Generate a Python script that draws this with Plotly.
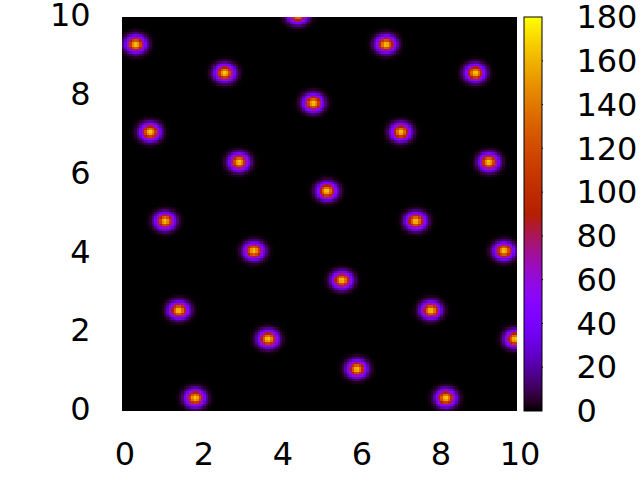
import numpy as np
import plotly.graph_objects as go

# Blob centres (data units)
blob_x = [0.35, 4.45, 6.68, 2.60, 8.94, 4.84, 0.71, 7.06, 2.96, 9.29, 5.19, 1.09,
          7.44, 3.34, 9.67, 5.57, 1.44, 7.82, 3.70, 9.95, 5.95, 1.85, 8.20]
blob_y = [9.31, 10.05, 9.31, 8.58, 8.58, 7.82, 7.08, 7.08, 6.32, 6.32, 5.58, 4.82,
          4.82, 4.06, 4.06, 3.32, 2.56, 2.56, 1.83, 1.83, 1.07, 0.33, 0.33]
peak = 168
sigma_x = 0.145
sigma_y = 0.125

x_ticks = [0, 2, 4, 6, 8, 10]
y_ticks = [0, 2, 4, 6, 8, 10]
cb_ticks = [0, 20, 40, 60, 80, 100, 120, 140, 160, 180]
cb_max = 180

n = 160
gx = (np.arange(n) + 0.5) * 10 / n
gy = (np.arange(n) + 0.5) * 10 / n
X, Y = np.meshgrid(gx, gy)
Z = np.zeros_like(X)
for bx, by in zip(blob_x, blob_y):
    Z += peak * np.exp(-((X - bx) ** 2) / (2 * sigma_x ** 2) - ((Y - by) ** 2) / (2 * sigma_y ** 2))

# gnuplot rgbformulae 7,5,15
cs = []
for t in np.linspace(0, 1, 41):
    r = np.sqrt(t)
    g = t ** 3
    b = np.clip(np.sin(2 * np.pi * t), 0, 1)
    cs.append([float(t), f"rgb({int(round(r*255))},{int(round(g*255))},{int(round(b*255))})"])

FONT = "DejaVu Sans"
FS = 32
W, H = 640, 480
L, T = 122, 17
PW, PH = 395, 394
fig = go.Figure()
fig.add_trace(go.Heatmap(
    x=gx, y=gy, z=Z, zmin=0, zmax=cb_max, colorscale=cs, zsmooth=False,
    hoverinfo="skip",
    colorbar=dict(
        x=(524 - 122) / PW, xanchor="left", xref="paper",
        y=0.5, yanchor="middle", len=1, lenmode="fraction",
        thickness=18, outlinewidth=1, outlinecolor="black",
        tickvals=cb_ticks, ticks="outside", ticklen=28, tickcolor="rgba(0,0,0,0)",
        tickfont=dict(family=FONT, size=FS, color="black"),
        ticklabeloverflow="allow",
        xpad=0, ypad=0,
    ),
))

# inner ticks on both edges of the colour bar
x0 = (524 - 122) / PW
x1 = (543 - 122) / PW
tl = 5 / PW
for v in cb_ticks[1:-1]:
    yy = v / cb_max
    fig.add_shape(type="line", xref="paper", yref="paper", x0=x0, x1=x0 + tl, y0=yy, y1=yy,
                  line=dict(color="black", width=1))
    fig.add_shape(type="line", xref="paper", yref="paper", x0=x1 - tl, x1=x1, y0=yy, y1=yy,
                  line=dict(color="black", width=1))

fig.update_layout(
    width=W, height=H,
    margin=dict(l=L, r=W - L - PW, t=T, b=H - T - PH, autoexpand=False),
    paper_bgcolor="white", plot_bgcolor="black",
    showlegend=False,
)
fig.update_xaxes(range=[0, 10], tickvals=x_ticks, showgrid=False, zeroline=False,
                 ticks="outside", ticklen=15, tickcolor="rgba(0,0,0,0)",
                 tickfont=dict(family=FONT, size=FS, color="black"), showline=False,
                 automargin=False, ticklabeloverflow="allow", ticklabelshift=3)
fig.update_yaxes(range=[0, 10], tickvals=y_ticks, showgrid=False, zeroline=False,
                 ticks="outside", ticklen=24, tickcolor="rgba(0,0,0,0)",
                 tickfont=dict(family=FONT, size=FS, color="black"), showline=False,
                 automargin=False, ticklabeloverflow="allow", ticklabelshift=-2)

# remove the browser's default 8px page margin so the figure fills the window
fig.write_html("out.html", config={"displayModeBar": False, "staticPlot": True},
               post_script="document.body.style.margin='0px';")
